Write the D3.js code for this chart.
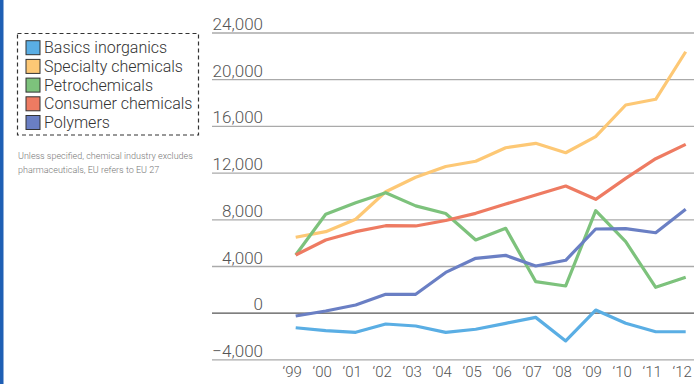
<!DOCTYPE html>
<html>
<head>
<meta charset="utf-8">
<script src="https://cdn.jsdelivr.net/npm/d3@7"></script>
<style>
  html, body { margin: 0; padding: 0; background: #fff; }
  svg { display: block; }
  .axis text { font-family: Roboto, "Liberation Sans", sans-serif; font-weight: 300; fill: #555; }
  .axis .domain { display: none; }
</style>
</head>
<body>
<svg id="chart" width="694" height="384"></svg>
<script>
// Year labels along the x axis
const years = ["\u201899", "\u201800", "\u201801", "\u201802", "\u201803", "\u201804", "\u201805",
               "\u201806", "\u201807", "\u201808", "\u201809", "\u201810", "\u201811", "\u201812"];

// Series values, one per year
const basicsInorganics   = [-1290, -1540, -1680, -970, -1140, -1680, -1420, -910, -400, -2420, 230, -910, -1630, -1630];
const specialtyChemicals = [6460, 6940, 8000, 10360, 11600, 12520, 12970, 14130, 14510, 13700, 15075, 17790, 18280, 22350];
const petrochemicals     = [4940, 8430, 9420, 10280, 9150, 8500, 6230, 7230, 2660, 2290, 8740, 6080, 2175, 3030];
const consumerChemicals  = [4940, 6230, 6940, 7450, 7430, 7900, 8510, 9310, 10080, 10850, 9710, 11510, 13190, 14420];
const polymers           = [-280, 145, 660, 1575, 1575, 3450, 4660, 4910, 4000, 4490, 7170, 7200, 6850, 8860];

// Y axis tick values
const yTicks = [-4000, 0, 4000, 8000, 12000, 16000, 20000, 24000];

const seriesNames  = ["Basics inorganics", "Specialty chemicals", "Petrochemicals", "Consumer chemicals", "Polymers"];
const seriesValues = [basicsInorganics, specialtyChemicals, petrochemicals, consumerChemicals, polymers];
const seriesColors = ["#5aaee4", "#fdc875", "#7dc27c", "#ee7b62", "#6a7fc4"];

const svg = d3.select("#chart");

// Blue page edge
svg.append("rect").attr("x", 0).attr("y", 0).attr("width", 3.5).attr("height", 384).attr("fill", "#1f5fb4");

const gridLeft = 212, gridRight = 694;
const x = d3.scaleLinear().domain([0, years.length - 1]).range([295.7, 685.7]);
const y = d3.scaleLinear().domain([-4000, 24000]).range([359.4, 32.5]);

// Y axis with full-width gridlines
const yAxis = svg.append("g")
  .attr("class", "axis y")
  .attr("transform", `translate(${gridLeft},0)`)
  .call(d3.axisLeft(y).tickValues(yTicks).tickSize(-(gridRight - gridLeft)).tickFormat(d3.format(",")));
yAxis.selectAll(".tick line")
  .attr("stroke", d => d === 0 ? "#555" : "#aaa")
  .attr("stroke-width", 1.3);
yAxis.selectAll(".tick text")
  .attr("x", 51)
  .attr("dy", "-3px")
  .attr("text-anchor", "end")
  .attr("font-size", 17)
  .style("dominant-baseline", "auto");

// X axis labels, set slightly left of their points
const xAxis = svg.append("g")
  .attr("class", "axis x")
  .attr("transform", `translate(0,359.4)`)
  .call(d3.axisBottom(x).tickValues(d3.range(years.length)).tickSize(0).tickFormat(i => years[i]));
xAxis.selectAll(".tick text")
  .attr("x", -4)
  .attr("y", 18)
  .attr("dy", 0)
  .attr("font-size", 15);

// Series lines
const line = d3.line().x((d, i) => x(i)).y(d => y(d));
svg.append("g").selectAll("path")
  .data(seriesValues)
  .join("path")
  .attr("d", line)
  .attr("fill", "none")
  .attr("stroke", (d, i) => seriesColors[i])
  .attr("stroke-width", 3.2)
  .attr("stroke-linejoin", "round")
  .attr("stroke-linecap", "butt");

// Legend
const legend = svg.append("g");
legend.append("rect")
  .attr("x", 17.5).attr("y", 33.5).attr("width", 181).attr("height", 101.5)
  .attr("fill", "none").attr("stroke", "#333").attr("stroke-width", 1.2)
  .attr("stroke-dasharray", "4,3");
const rows = legend.selectAll("g.row")
  .data(seriesNames)
  .join("g")
  .attr("class", "row")
  .attr("transform", (d, i) => `translate(0,${47.7 + i * 18.7})`);
rows.append("rect")
  .attr("x", 26).attr("y", -7).attr("width", 14).attr("height", 14)
  .attr("fill", (d, i) => seriesColors[i])
  .attr("stroke", "#333").attr("stroke-width", 1);
rows.append("text")
  .attr("x", 44).attr("y", 5.6)
  .attr("font-family", "Roboto, 'Liberation Sans', sans-serif")
  .attr("font-weight", 300)
  .attr("font-size", 16)
  .attr("fill", "#333")
  .text(d => d);

// Footnote
const note = svg.append("text")
  .attr("font-family", "Roboto, 'Liberation Sans', sans-serif")
  .attr("font-weight", 300)
  .attr("font-size", 9.0)
  .attr("fill", "#777");
note.append("tspan").attr("x", 18).attr("y", 159).text("Unless specified, chemical industry excludes");
note.append("tspan").attr("x", 18).attr("y", 172.5).text("pharmaceuticals, EU refers to EU 27");
</script>
</body>
</html>
